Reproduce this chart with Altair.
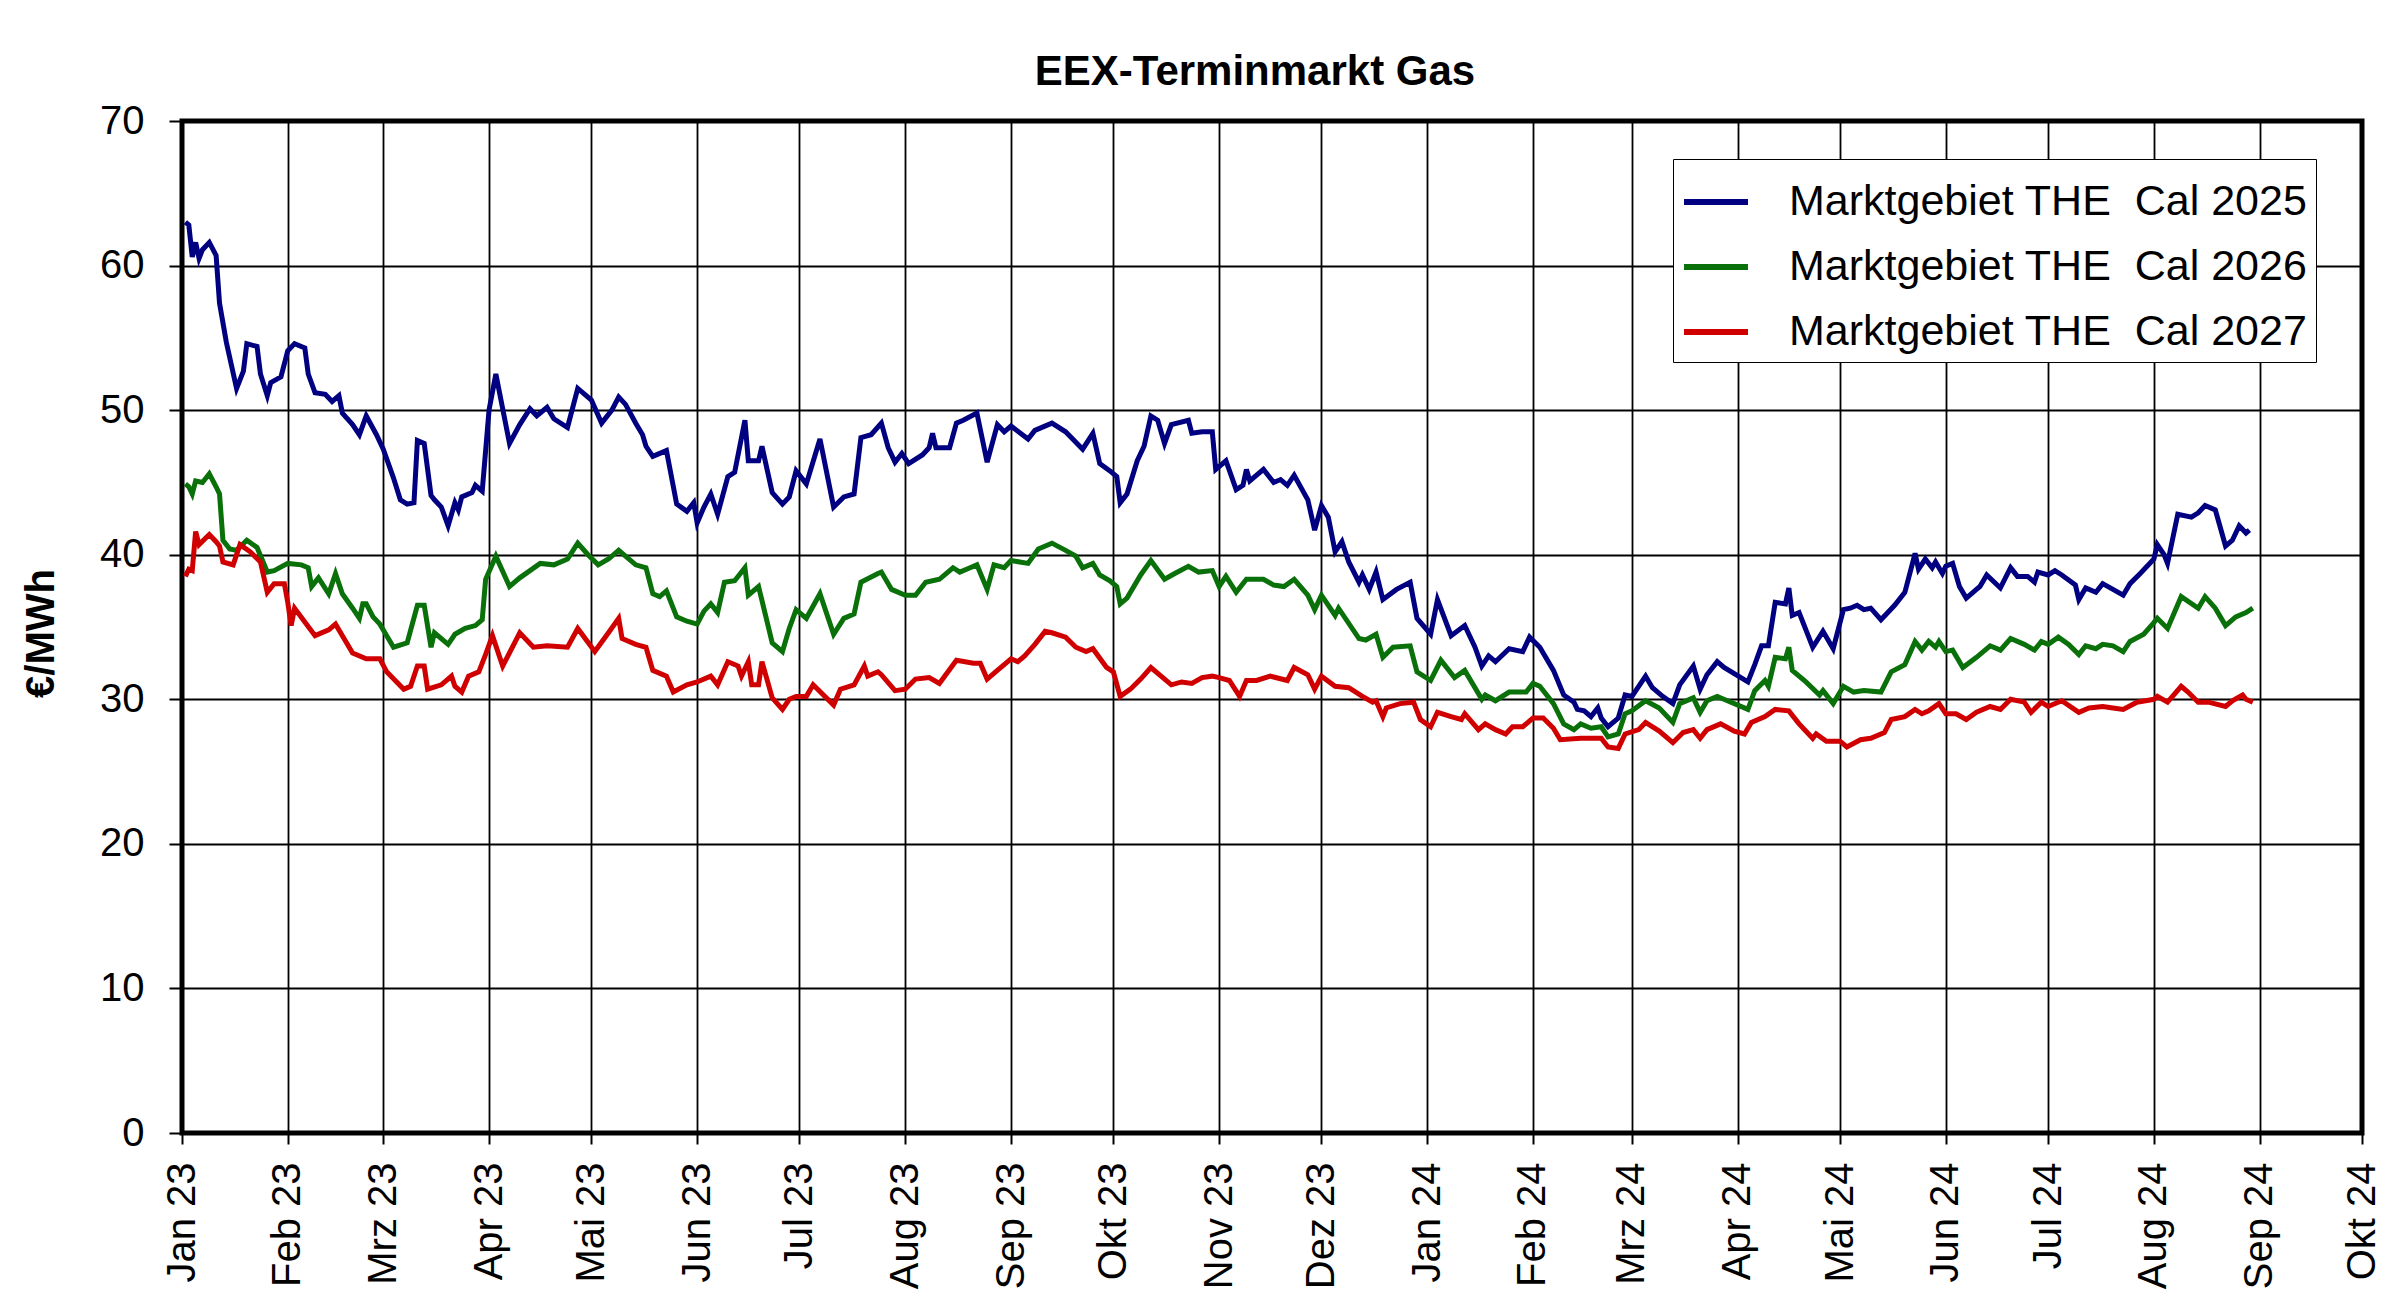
import altair as alt
import pandas as pd

# ---------------- data ----------------
series_names = ["Marktgebiet THE\u00a0 Cal 2025", "Marktgebiet THE\u00a0 Cal 2026", "Marktgebiet THE\u00a0 Cal 2027"]
series_colors = ["#000080", "#0a700a", "#d00000"]

dates_2025 = [
    "2023-01-02","2023-01-03","2023-01-04","2023-01-05","2023-01-06","2023-01-07","2023-01-09","2023-01-11","2023-01-12","2023-01-14",
    "2023-01-17","2023-01-19","2023-01-20","2023-01-23","2023-01-24","2023-01-26","2023-01-27","2023-01-30","2023-02-01","2023-02-03",
    "2023-02-06","2023-02-07","2023-02-09","2023-02-12","2023-02-14","2023-02-16","2023-02-17","2023-02-20","2023-02-22","2023-02-24",
    "2023-02-27","2023-03-01","2023-03-04","2023-03-06","2023-03-08","2023-03-10","2023-03-11","2023-03-13","2023-03-15","2023-03-16",
    "2023-03-18","2023-03-20","2023-03-22","2023-03-23","2023-03-24","2023-03-27","2023-03-28","2023-03-30","2023-04-01","2023-04-03",
    "2023-04-07","2023-04-10","2023-04-13","2023-04-15","2023-04-18","2023-04-20","2023-04-24","2023-04-27","2023-05-01","2023-05-04",
    "2023-05-07","2023-05-09","2023-05-11","2023-05-14","2023-05-16","2023-05-17","2023-05-19","2023-05-23","2023-05-26","2023-05-29",
    "2023-05-31","2023-06-01","2023-06-03","2023-06-05","2023-06-07","2023-06-10","2023-06-12","2023-06-15","2023-06-16","2023-06-19",
    "2023-06-20","2023-06-23","2023-06-26","2023-06-28","2023-06-30","2023-07-03","2023-07-07","2023-07-11","2023-07-14","2023-07-17",
    "2023-07-19","2023-07-22","2023-07-25","2023-07-27","2023-07-29","2023-07-31","2023-08-02","2023-08-06","2023-08-08","2023-08-09",
    "2023-08-10","2023-08-14","2023-08-16","2023-08-18","2023-08-22","2023-08-25","2023-08-28","2023-08-30","2023-09-01","2023-09-06",
    "2023-09-08","2023-09-13","2023-09-17","2023-09-22","2023-09-25","2023-09-27","2023-09-30","2023-10-02","2023-10-03","2023-10-05",
    "2023-10-08","2023-10-10","2023-10-12","2023-10-14","2023-10-16","2023-10-18","2023-10-23","2023-10-24","2023-10-27","2023-10-30",
    "2023-10-31","2023-11-03","2023-11-06","2023-11-08","2023-11-09","2023-11-10","2023-11-14","2023-11-17","2023-11-19","2023-11-21",
    "2023-11-23","2023-11-27","2023-11-29","2023-12-01","2023-12-03","2023-12-05","2023-12-07","2023-12-09","2023-12-12","2023-12-13",
    "2023-12-15","2023-12-17","2023-12-19","2023-12-23","2023-12-27","2023-12-29","2024-01-02","2024-01-04","2024-01-08","2024-01-12",
    "2024-01-15","2024-01-17","2024-01-19","2024-01-21","2024-01-25","2024-01-29","2024-01-31","2024-02-03","2024-02-07","2024-02-10",
    "2024-02-13","2024-02-14","2024-02-16","2024-02-18","2024-02-20","2024-02-21","2024-02-23","2024-02-26","2024-02-28","2024-03-01",
    "2024-03-05","2024-03-07","2024-03-10","2024-03-13","2024-03-15","2024-03-19","2024-03-21","2024-03-23","2024-03-26","2024-03-28",
    "2024-04-04","2024-04-06","2024-04-08","2024-04-10","2024-04-12","2024-04-15","2024-04-16","2024-04-17","2024-04-19","2024-04-21",
    "2024-04-23","2024-04-26","2024-04-29","2024-05-02","2024-05-04","2024-05-06","2024-05-08","2024-05-10","2024-05-13","2024-05-17",
    "2024-05-20","2024-05-23","2024-05-24","2024-05-26","2024-05-28","2024-05-29","2024-05-31","2024-06-01","2024-06-03","2024-06-05",
    "2024-06-07","2024-06-10","2024-06-11","2024-06-13","2024-06-17","2024-06-20","2024-06-22","2024-06-25","2024-06-27","2024-06-28",
    "2024-07-01","2024-07-03","2024-07-05","2024-07-09","2024-07-10","2024-07-12","2024-07-15","2024-07-17","2024-07-20","2024-07-23",
    "2024-07-25","2024-07-28","2024-08-01","2024-08-02","2024-08-04","2024-08-05","2024-08-08","2024-08-12","2024-08-14","2024-08-16",
    "2024-08-19","2024-08-22","2024-08-24","2024-08-26","2024-08-28","2024-08-29",
]
values_2025 = [
    63.0,62.8,60.6,61.6,60.5,61.1,61.6,60.7,57.4,54.7,
    51.5,52.7,54.6,54.4,52.5,51.0,51.9,52.3,54.1,54.6,
    54.3,52.5,51.2,51.1,50.6,51.0,49.8,49.0,48.3,49.6,
    48.3,47.3,45.3,43.8,43.5,43.6,47.9,47.7,44.1,43.8,
    43.3,42.0,43.6,43.1,44.0,44.3,44.8,44.4,50.0,52.5,
    47.7,49.0,50.1,49.6,50.2,49.4,48.8,51.5,50.7,49.1,
    50.0,50.9,50.4,49.1,48.3,47.5,46.8,47.2,43.5,43.0,
    43.6,42.2,43.3,44.2,42.8,45.4,45.7,49.3,46.5,46.5,
    47.5,44.3,43.5,44.0,45.8,44.9,48.0,43.3,44.0,44.2,
    48.1,48.3,49.1,47.4,46.4,47.0,46.3,46.9,47.4,48.4,
    47.4,47.4,49.1,49.3,49.8,46.4,49.0,48.5,48.9,48.0,
    48.6,49.1,48.5,47.3,48.4,46.3,45.8,45.4,43.6,44.2,
    46.5,47.5,49.6,49.3,47.7,49.0,49.3,48.4,48.5,48.5,
    45.9,46.5,44.5,44.8,45.9,45.1,45.9,45.0,45.2,44.8,
    45.5,43.8,41.7,43.4,42.6,40.2,40.9,39.5,38.1,38.6,
    37.6,38.8,36.9,37.6,38.1,35.6,34.5,36.9,34.4,35.1,
    33.6,32.3,33.0,32.6,33.5,33.3,34.3,33.6,32.0,30.3,
    29.8,29.3,29.2,28.8,29.4,28.7,28.1,28.7,30.3,30.2,
    31.6,30.8,30.2,29.7,31.0,32.3,30.7,31.7,32.6,32.2,
    31.2,32.4,33.7,33.7,36.7,36.6,37.7,35.8,36.0,34.8,
    33.6,34.7,33.5,36.2,36.3,36.5,36.2,36.3,35.5,36.5,
    37.4,40.1,39.0,39.7,39.1,39.5,38.7,39.2,39.4,37.8,
    37.0,37.6,37.8,38.6,37.7,39.1,38.5,38.5,38.1,38.8,
    38.6,38.9,38.6,37.9,36.9,37.7,37.4,38.0,37.6,37.2,
    38.0,38.7,39.7,40.7,40.0,39.4,42.8,42.6,42.9,43.4,
    43.1,40.6,41.0,42.0,41.5,41.7,
]

dates_2026 = [
    "2023-01-02","2023-01-03","2023-01-04","2023-01-05","2023-01-07","2023-01-09","2023-01-11","2023-01-12","2023-01-13","2023-01-15",
    "2023-01-17","2023-01-20","2023-01-23","2023-01-26","2023-01-28","2023-02-01","2023-02-05","2023-02-07","2023-02-08","2023-02-10",
    "2023-02-13","2023-02-15","2023-02-17","2023-02-20","2023-02-22","2023-02-23","2023-02-24","2023-02-26","2023-02-28","2023-03-02",
    "2023-03-04","2023-03-08","2023-03-11","2023-03-13","2023-03-15","2023-03-16","2023-03-20","2023-03-22","2023-03-25","2023-03-28",
    "2023-03-30","2023-03-31","2023-04-03","2023-04-07","2023-04-10","2023-04-13","2023-04-16","2023-04-20","2023-04-24","2023-04-27",
    "2023-04-30","2023-05-03","2023-05-06","2023-05-09","2023-05-11","2023-05-14","2023-05-17","2023-05-19","2023-05-21","2023-05-23",
    "2023-05-26","2023-05-29","2023-06-01","2023-06-03","2023-06-05","2023-06-07","2023-06-09","2023-06-12","2023-06-15","2023-06-16",
    "2023-06-19","2023-06-23","2023-06-26","2023-06-28","2023-06-30","2023-07-03","2023-07-07","2023-07-11","2023-07-14","2023-07-17",
    "2023-07-19","2023-07-24","2023-07-25","2023-07-28","2023-08-01","2023-08-04","2023-08-07","2023-08-11","2023-08-15","2023-08-17",
    "2023-08-20","2023-08-22","2023-08-25","2023-08-27","2023-08-30","2023-09-01","2023-09-06","2023-09-09","2023-09-13","2023-09-17",
    "2023-09-20","2023-09-22","2023-09-25","2023-09-27","2023-09-30","2023-10-02","2023-10-03","2023-10-05","2023-10-09","2023-10-12",
    "2023-10-16","2023-10-19","2023-10-23","2023-10-26","2023-10-30","2023-11-01","2023-11-03","2023-11-06","2023-11-09","2023-11-14",
    "2023-11-17","2023-11-20","2023-11-23","2023-11-27","2023-11-29","2023-12-01","2023-12-05","2023-12-06","2023-12-12","2023-12-14",
    "2023-12-17","2023-12-19","2023-12-22","2023-12-27","2023-12-29","2024-01-02","2024-01-05","2024-01-09","2024-01-12","2024-01-17",
    "2024-01-18","2024-01-21","2024-01-25","2024-01-30","2024-02-01","2024-02-03","2024-02-07","2024-02-10","2024-02-13","2024-02-15",
    "2024-02-18","2024-02-21","2024-02-23","2024-02-26","2024-02-28","2024-03-01","2024-03-05","2024-03-09","2024-03-13","2024-03-15",
    "2024-03-19","2024-03-21","2024-03-23","2024-03-26","2024-03-29","2024-04-04","2024-04-06","2024-04-09","2024-04-10","2024-04-12",
    "2024-04-15","2024-04-16","2024-04-17","2024-04-21","2024-04-25","2024-04-26","2024-04-29","2024-05-02","2024-05-05","2024-05-08",
    "2024-05-13","2024-05-16","2024-05-20","2024-05-23","2024-05-25","2024-05-27","2024-05-29","2024-05-30","2024-06-01","2024-06-03",
    "2024-06-06","2024-06-10","2024-06-14","2024-06-17","2024-06-20","2024-06-24","2024-06-27","2024-06-29","2024-07-01","2024-07-04",
    "2024-07-07","2024-07-10","2024-07-12","2024-07-15","2024-07-17","2024-07-20","2024-07-23","2024-07-25","2024-07-29","2024-08-01",
    "2024-08-02","2024-08-05","2024-08-09","2024-08-14","2024-08-16","2024-08-19","2024-08-22","2024-08-25","2024-08-28","2024-08-30",
]
values_2026 = [
    44.9,44.7,44.2,45.1,45.0,45.6,44.7,44.2,41.0,40.4,
    40.3,41.0,40.5,38.8,38.9,39.4,39.3,39.1,37.8,38.4,
    37.3,38.7,37.3,36.3,35.6,36.6,36.6,35.7,35.2,34.4,
    33.6,33.9,36.5,36.5,33.6,34.6,33.8,34.5,34.9,35.1,
    35.5,38.3,39.9,37.8,38.4,38.9,39.4,39.3,39.7,40.8,
    40.0,39.3,39.7,40.3,39.9,39.3,39.1,37.3,37.1,37.5,
    35.7,35.4,35.2,36.1,36.6,36.0,38.1,38.2,39.1,37.2,
    37.8,33.9,33.3,34.9,36.2,35.6,37.3,34.5,35.6,35.9,
    38.1,38.7,38.8,37.6,37.2,37.2,38.1,38.3,39.1,38.8,
    39.1,39.3,37.6,39.3,39.1,39.6,39.4,40.4,40.8,40.3,
    39.9,39.1,39.4,38.6,38.2,37.8,36.6,37.0,38.6,39.6,
    38.3,38.7,39.2,38.8,38.9,37.8,38.5,37.4,38.3,38.3,
    37.9,37.8,38.3,37.2,36.2,37.2,35.8,36.3,34.2,34.1,
    34.5,32.9,33.6,33.7,31.9,31.3,32.7,31.5,32.0,30.0,
    30.3,29.9,30.5,30.5,31.1,30.9,29.7,28.3,27.9,28.3,
    28.0,28.1,27.4,27.6,29.0,29.2,29.9,29.4,28.4,29.7,
    30.1,29.1,29.9,30.2,29.9,29.3,30.6,31.3,30.9,32.9,
    32.8,33.6,32.0,31.2,30.3,30.6,29.7,30.9,30.5,30.6,
    30.5,31.9,32.4,34.0,33.4,34.0,33.6,34.0,33.3,33.4,
    32.2,32.9,33.7,33.4,34.2,33.8,33.4,34.0,33.8,34.3,
    33.8,33.1,33.7,33.5,33.8,33.7,33.3,34.0,34.5,35.3,
    35.6,34.9,37.1,36.3,37.1,36.3,35.1,35.7,36.0,36.3,
]

dates_2027 = [
    "2023-01-02","2023-01-03","2023-01-04","2023-01-05","2023-01-06","2023-01-09","2023-01-11","2023-01-12","2023-01-13","2023-01-16",
    "2023-01-18","2023-01-21","2023-01-24","2023-01-26","2023-01-28","2023-01-31","2023-02-01","2023-02-02","2023-02-03","2023-02-09",
    "2023-02-13","2023-02-15","2023-02-18","2023-02-20","2023-02-24","2023-02-28","2023-03-02","2023-03-07","2023-03-09","2023-03-11",
    "2023-03-13","2023-03-14","2023-03-18","2023-03-21","2023-03-22","2023-03-24","2023-03-26","2023-03-29","2023-03-31","2023-04-02",
    "2023-04-05","2023-04-10","2023-04-14","2023-04-18","2023-04-24","2023-04-27","2023-05-02","2023-05-06","2023-05-09","2023-05-10",
    "2023-05-14","2023-05-17","2023-05-19","2023-05-23","2023-05-25","2023-05-29","2023-06-01","2023-06-05","2023-06-07","2023-06-10",
    "2023-06-13","2023-06-14","2023-06-16","2023-06-17","2023-06-19","2023-06-20","2023-06-23","2023-06-26","2023-06-28","2023-06-30",
    "2023-07-03","2023-07-05","2023-07-11","2023-07-13","2023-07-17","2023-07-20","2023-07-21","2023-07-24","2023-07-25","2023-07-29",
    "2023-08-01","2023-08-04","2023-08-08","2023-08-11","2023-08-16","2023-08-21","2023-08-23","2023-08-25","2023-08-28","2023-09-01",
    "2023-09-03","2023-09-05","2023-09-08","2023-09-11","2023-09-13","2023-09-17","2023-09-20","2023-09-23","2023-09-25","2023-09-29",
    "2023-10-01","2023-10-03","2023-10-06","2023-10-09","2023-10-12","2023-10-18","2023-10-21","2023-10-24","2023-10-27","2023-10-30",
    "2023-11-01","2023-11-04","2023-11-07","2023-11-09","2023-11-12","2023-11-16","2023-11-21","2023-11-23","2023-11-27","2023-11-29",
    "2023-12-01","2023-12-05","2023-12-09","2023-12-13","2023-12-16","2023-12-17","2023-12-19","2023-12-20","2023-12-24","2023-12-28",
    "2023-12-30","2024-01-02","2024-01-04","2024-01-08","2024-01-11","2024-01-12","2024-01-16","2024-01-18","2024-01-21","2024-01-24",
    "2024-01-26","2024-01-29","2024-02-01","2024-02-04","2024-02-07","2024-02-09","2024-02-15","2024-02-18","2024-02-21","2024-02-23",
    "2024-02-26","2024-02-28","2024-03-03","2024-03-05","2024-03-09","2024-03-13","2024-03-16","2024-03-19","2024-03-21","2024-03-23",
    "2024-03-27","2024-03-31","2024-04-03","2024-04-05","2024-04-09","2024-04-12","2024-04-16","2024-04-19","2024-04-23","2024-04-24",
    "2024-04-27","2024-05-01","2024-05-03","2024-05-07","2024-05-10","2024-05-14","2024-05-16","2024-05-20","2024-05-23","2024-05-25",
    "2024-05-27","2024-05-30","2024-06-01","2024-06-04","2024-06-07","2024-06-10","2024-06-14","2024-06-17","2024-06-20","2024-06-24",
    "2024-06-26","2024-06-29","2024-07-01","2024-07-05","2024-07-10","2024-07-13","2024-07-17","2024-07-20","2024-07-23","2024-07-27",
    "2024-08-01","2024-08-02","2024-08-05","2024-08-09","2024-08-11","2024-08-14","2024-08-17","2024-08-22","2024-08-24","2024-08-27",
    "2024-08-28","2024-08-30",
]
values_2027 = [
    38.5,39.0,38.9,41.6,40.7,41.4,40.9,40.6,39.5,39.3,
    40.7,40.2,39.5,37.4,38.0,38.0,36.7,35.1,36.3,34.4,
    34.8,35.2,34.0,33.2,32.8,32.8,31.9,30.7,30.9,32.3,
    32.3,30.7,31.0,31.6,30.9,30.5,31.6,31.9,33.1,34.4,
    32.3,34.6,33.6,33.7,33.6,34.9,33.3,34.6,35.6,34.2,
    33.8,33.6,32.0,31.6,30.5,31.0,31.2,31.6,31.0,32.6,
    32.3,31.6,32.6,31.0,31.0,32.6,30.1,29.3,30.0,30.2,
    30.2,31.0,29.6,30.7,31.0,32.3,31.6,31.9,31.7,30.6,
    30.7,31.4,31.5,31.1,32.7,32.5,32.5,31.4,32.0,32.8,
    32.6,33.0,33.8,34.7,34.6,34.3,33.6,33.3,33.5,32.2,
    31.9,30.2,30.7,31.4,32.2,31.0,31.2,31.1,31.5,31.6,
    31.5,31.3,30.2,31.3,31.3,31.6,31.3,32.2,31.7,30.7,
    31.6,30.9,30.8,30.2,29.8,29.9,28.8,29.4,29.7,29.8,
    28.6,28.1,29.1,28.8,28.6,29.0,27.9,28.3,27.9,27.6,
    28.1,28.1,28.7,28.7,28.0,27.2,27.3,27.3,27.3,26.7,
    26.6,27.6,27.9,28.4,27.8,27.0,27.7,27.9,27.3,27.9,
    28.3,27.8,27.6,28.4,28.8,29.3,29.2,28.3,27.3,27.6,
    27.1,27.1,26.7,27.2,27.3,27.7,28.6,28.8,29.3,29.0,
    29.2,29.7,29.0,29.0,28.6,29.1,29.5,29.3,30.0,29.8,
    29.1,29.8,29.5,29.9,29.1,29.4,29.5,29.4,29.3,29.8,
    30.0,30.2,29.8,30.9,30.5,29.8,29.8,29.5,29.9,30.3,
    30.0,29.8,
]

month_names = ["Jan", "Feb", "Mrz", "Apr", "Mai", "Jun", "Jul", "Aug", "Sep", "Okt", "Nov", "Dez"]
y_ticks = [0, 10, 20, 30, 40, 50, 60, 70]

# ---------------- build table ----------------
frames = []
for name, d, v in zip(series_names, [dates_2025, dates_2026, dates_2027], [values_2025, values_2026, values_2027]):
    frames.append(pd.DataFrame({"date": d, "value": v, "series": name}))
df = pd.concat(frames, ignore_index=True)

tick_dates = []
for yr, mo in [(2023, m) for m in range(1, 13)] + [(2024, m) for m in range(1, 11)]:
    tick_dates.append(alt.DateTime(year=yr, month=mo, date=1, utc=True))

FONT = "Liberation Sans"
label_expr = ("['" + "','".join(month_names) + "'][utcmonth(datum.value)] + ' ' + utcFormat(datum.value, '%y')")

chart = alt.Chart(df).mark_line(strokeWidth=5, interpolate="linear").encode(
    x=alt.X(
        "date:T",
        scale=alt.Scale(type="utc", domain=[tick_dates[0], tick_dates[-1]], nice=False),
        axis=alt.Axis(
            title=None, values=tick_dates, labelExpr=label_expr, labelAngle=270,
            labelFontSize=40, labelFont=FONT, labelColor="black", labelPadding=18,
            tickSize=11, tickWidth=2, tickColor="black", domain=False,
            grid=True, gridColor="black", gridWidth=1.8, labelOverlap=False,
        ),
    ),
    y=alt.Y(
        "value:Q",
        scale=alt.Scale(domain=[0, 70], nice=False),
        axis=alt.Axis(
            title="€/MWh", titleFont=FONT, titleFontSize=40, titleFontWeight="bold", titleColor="black",
            titleAngle=270, titleX=-141, titleY=512, titleAlign="center", titleBaseline="middle",
            values=y_ticks, labelFontSize=40, labelFont=FONT, labelColor="black", labelPadding=25,
            tickSize=13, tickWidth=2, tickColor="black", domain=False,
            grid=True, gridColor="black", gridWidth=1.8,
        ),
    ),
    color=alt.Color(
        "series:N",
        scale=alt.Scale(domain=series_names, range=series_colors),
        legend=alt.Legend(
            title=None, orient="none", legendX=1491, legendY=38, direction="vertical",
            symbolType="stroke", symbolSize=4096, symbolStrokeWidth=6,
            labelFontSize=43, labelFont=FONT, labelColor="black", labelOffset=38, labelLimit=0,
            padding=8, rowPadding=8, strokeColor="black", fillColor="white", cornerRadius=0,
        ),
    ),
).properties(
    width=2180,
    height=1012,
    title=alt.TitleParams(
        "EEX-Terminmarkt Gas", font=FONT, fontSize=42, fontWeight="bold", color="black",
        anchor="middle", dx=-17, offset=7,
    ),
    autosize=alt.AutoSizeParams(type="none"),
    padding={"left": 174, "top": 113, "right": 30, "bottom": 172},
    background="white",
).configure_view(
    stroke="black", strokeWidth=5,
)

chart.save("out.html", embed_options={"renderer": "svg", "actions": False})
